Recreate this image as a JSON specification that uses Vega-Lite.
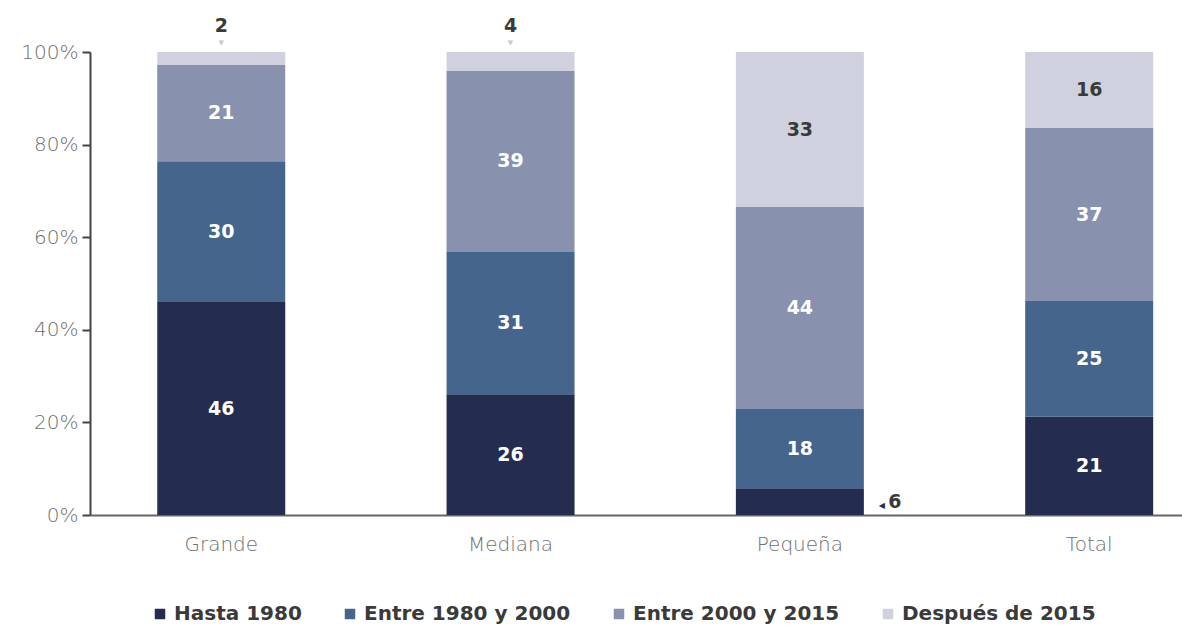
{
  "$schema": "https://vega.github.io/schema/vega-lite/v6.json",
  "width": 1092,
  "height": 463,
  "autosize": {"type": "none"},
  "padding": {"left": 90, "top": 52, "right": 0, "bottom": 113},
  "background": "white",
  "config": {
    "view": {"stroke": null},
    "font": "DejaVu Sans"
  },
  "data": {
    "values": [
      {"cat": "Grande", "period": "Hasta 1980", "ord": 1, "value": 46.0, "label": 46},
      {"cat": "Grande", "period": "Entre 1980 y 2000", "ord": 2, "value": 30.4, "label": 30},
      {"cat": "Grande", "period": "Entre 2000 y 2015", "ord": 3, "value": 20.8, "label": 21},
      {"cat": "Grande", "period": "Después de 2015", "ord": 4, "value": 2.8, "label": 2},
      {"cat": "Mediana", "period": "Hasta 1980", "ord": 1, "value": 26.1, "label": 26},
      {"cat": "Mediana", "period": "Entre 1980 y 2000", "ord": 2, "value": 30.7, "label": 31},
      {"cat": "Mediana", "period": "Entre 2000 y 2015", "ord": 3, "value": 39.1, "label": 39},
      {"cat": "Mediana", "period": "Después de 2015", "ord": 4, "value": 4.1, "label": 4},
      {"cat": "Pequeña", "period": "Hasta 1980", "ord": 1, "value": 5.8, "label": 6},
      {"cat": "Pequeña", "period": "Entre 1980 y 2000", "ord": 2, "value": 17.1, "label": 18},
      {"cat": "Pequeña", "period": "Entre 2000 y 2015", "ord": 3, "value": 43.6, "label": 44},
      {"cat": "Pequeña", "period": "Después de 2015", "ord": 4, "value": 33.5, "label": 33},
      {"cat": "Total", "period": "Hasta 1980", "ord": 1, "value": 21.2, "label": 21},
      {"cat": "Total", "period": "Entre 1980 y 2000", "ord": 2, "value": 25.0, "label": 25},
      {"cat": "Total", "period": "Entre 2000 y 2015", "ord": 3, "value": 37.4, "label": 37},
      {"cat": "Total", "period": "Después de 2015", "ord": 4, "value": 16.4, "label": 16}
    ]
  },
  "transform": [
    {"stack": "value", "groupby": ["cat"], "sort": [{"field": "ord", "order": "ascending"}], "offset": "normalize", "as": ["v0", "v1"]},
    {"calculate": "(datum.v0 + datum.v1) / 2", "as": "vmid"}
  ],
  "encoding": {
    "x": {
      "field": "cat",
      "type": "nominal",
      "sort": ["Grande", "Mediana", "Pequeña", "Total"],
      "scale": {"paddingInner": 0.5576, "paddingOuter": 0.166, "align": 0.7},
      "axis": {
        "title": null,
        "labelAngle": 0,
        "labelFontSize": 20,
        "labelFontWeight": 200,
        "labelColor": "#6f6f6f",
        "labelPadding": 19,
        "ticks": false,
        "domainColor": "#666666",
        "domainWidth": 2
      }
    }
  },
  "layer": [
    {
      "mark": {"type": "bar"},
      "encoding": {
        "y": {
          "field": "v0",
          "type": "quantitative",
          "scale": {"domain": [0, 1], "nice": false},
          "axis": {
            "title": null,
            "format": ".0%",
            "values": [0, 0.2, 0.4, 0.6, 0.8, 1],
            "grid": false,
            "labelFontSize": 20,
            "labelFontWeight": 200,
            "labelColor": "#6f6f6f",
            "labelPadding": 4,
            "tickSize": 8,
            "tickWidth": 2,
            "tickColor": "#444444",
            "domainColor": "#444444",
            "domainWidth": 2
          }
        },
        "y2": {"field": "v1"},
        "color": {
          "field": "period",
          "type": "nominal",
          "sort": ["Hasta 1980", "Entre 1980 y 2000", "Entre 2000 y 2015", "Después de 2015"],
          "scale": {
            "domain": ["Hasta 1980", "Entre 1980 y 2000", "Entre 2000 y 2015", "Después de 2015"],
            "range": ["#242D50", "#45658D", "#8892AF", "#D0D1DF"]
          },
          "legend": {
            "title": null,
            "orient": "none",
            "direction": "horizontal",
            "legendX": 60,
            "legendY": 552,
            "padding": 0,
            "symbolType": "square",
            "symbolSize": 110,
            "symbolStrokeWidth": 0,
            "labelFontSize": 20,
            "labelFontWeight": "bold",
            "labelColor": "#3a3a3a",
            "labelOffset": 4,
            "labelLimit": 400,
            "columnPadding": 38
          }
        }
      }
    },
    {
      "transform": [{"filter": "datum.value >= 6"}],
      "mark": {"type": "text", "fontSize": 19, "fontWeight": "bold", "baseline": "middle", "align": "center"},
      "encoding": {
        "y": {"field": "vmid", "type": "quantitative"},
        "text": {"field": "label", "type": "quantitative"},
        "color": {"condition": {"test": "datum.period == 'Después de 2015'", "value": "#3a3a3a"}, "value": "white"}
      }
    },
    {
      "transform": [{"filter": "datum.value < 5"}],
      "mark": {"type": "text", "fontSize": 19, "fontWeight": "bold", "baseline": "middle", "align": "center", "dy": -26, "color": "#3a3a3a"},
      "encoding": {
        "y": {"field": "v1", "type": "quantitative"},
        "text": {"field": "label", "type": "quantitative"}
      }
    },
    {
      "transform": [{"filter": "datum.value < 5"}],
      "mark": {"type": "text", "fontSize": 7, "baseline": "middle", "align": "center", "dy": -9, "color": "#C8C9D8", "text": "▼"},
      "encoding": {
        "y": {"field": "v1", "type": "quantitative"}
      }
    },
    {
      "transform": [{"filter": "datum.value >= 5 && datum.value < 6"}],
      "mark": {"type": "text", "fontSize": 19, "fontWeight": "bold", "baseline": "middle", "align": "center", "dx": 95, "color": "#3a3a3a"},
      "encoding": {
        "y": {"field": "vmid", "type": "quantitative"},
        "text": {"field": "label", "type": "quantitative"}
      }
    },
    {
      "transform": [{"filter": "datum.value >= 5 && datum.value < 6"}],
      "mark": {"type": "text", "fontSize": 8, "baseline": "middle", "align": "center", "dx": 82, "dy": 4, "color": "#242D50", "text": "◀"},
      "encoding": {
        "y": {"field": "vmid", "type": "quantitative"}
      }
    }
  ]
}
